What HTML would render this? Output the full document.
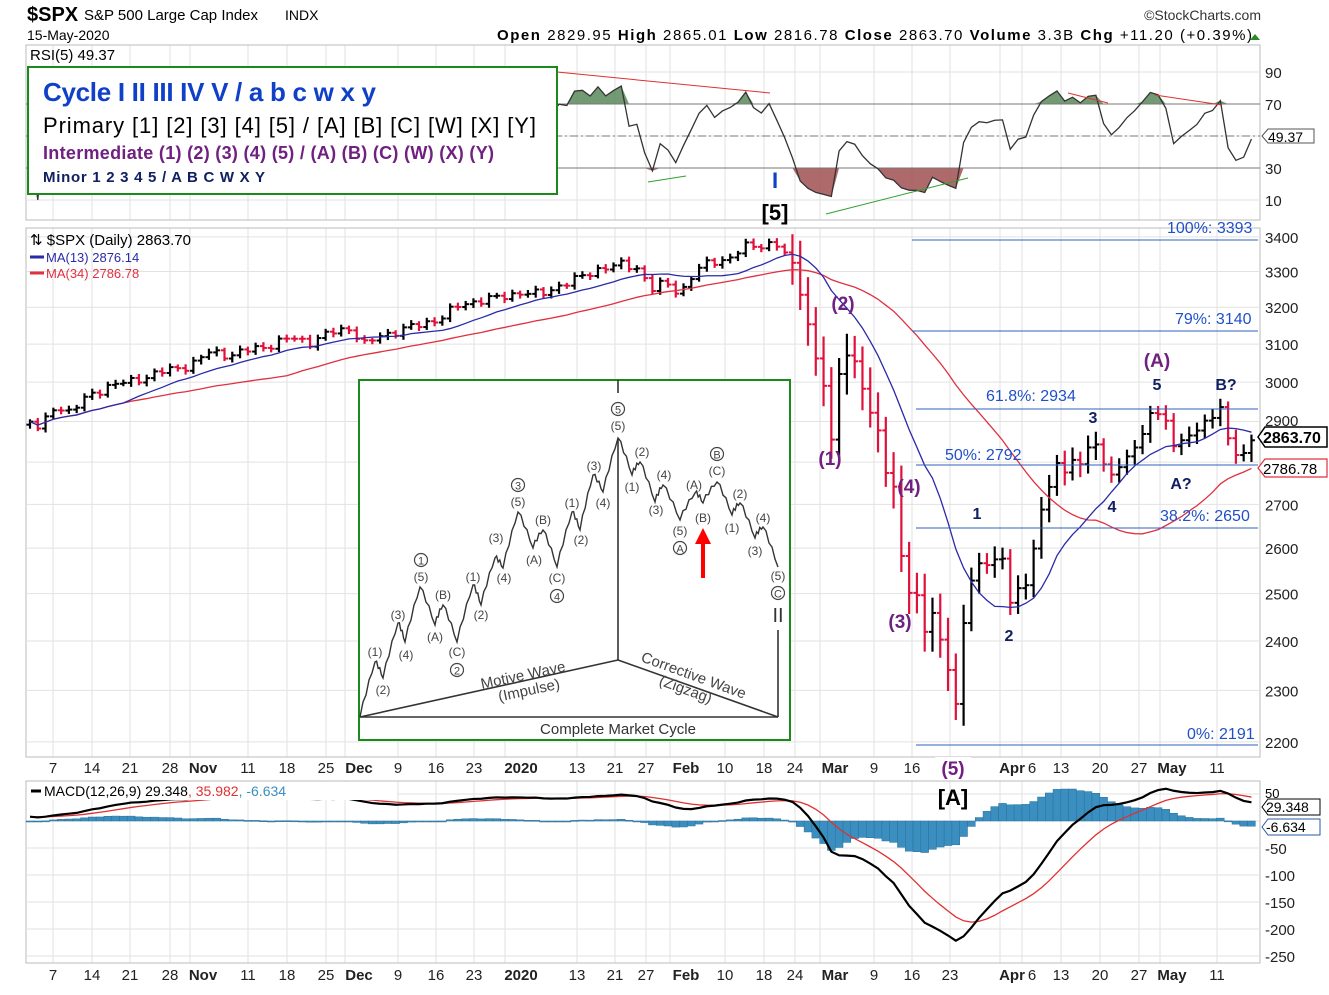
<!DOCTYPE html>
<html><head><meta charset="utf-8"><style>
body{margin:0;background:#fff}
svg text{font-family:"Liberation Sans",sans-serif}
</style></head><body>
<svg id="s" width="1329" height="990" viewBox="0 0 1329 990" xmlns="http://www.w3.org/2000/svg">
<rect width="1329" height="990" fill="#fff"/>
<g id="grid"></g>
<g id="rsi"></g>
<g id="price"></g>
<g id="macd"></g>
<text x="27" y="21" font-size="20" font-weight="bold">$SPX</text>
<text x="84" y="20" font-size="15">S&amp;P 500 Large Cap Index</text>
<text x="285" y="20" font-size="14">INDX</text>
<text x="27" y="40" font-size="14">15-May-2020</text>
<text x="1261" y="20" font-size="14" text-anchor="end" fill="#333">©StockCharts.com</text>
<text x="1252" y="40" font-size="15" text-anchor="end" textLength="755"><tspan font-weight="bold">Open</tspan> 2829.95 <tspan font-weight="bold">High</tspan> 2865.01 <tspan font-weight="bold">Low</tspan> 2816.78 <tspan font-weight="bold">Close</tspan> 2863.70 <tspan font-weight="bold">Volume</tspan> 3.3B <tspan font-weight="bold">Chg</tspan> +11.20 (+0.39%)</text>
<polygon points="1250,40 1260,40 1255,34" fill="#2a8a2a"/>
<text x="30" y="60" font-size="15" font-family="Liberation Mono">RSI(5) 49.37</text>
<rect x="28" y="67" width="529" height="127" fill="#fff" stroke="#1a8a1a" stroke-width="2"/>
<text x="43" y="101" font-size="26" font-weight="bold" fill="#1040c8" textLength="333">Cycle I II III IV V / a b c w x y</text>
<text x="43" y="133" font-size="22" fill="#000" textLength="493">Primary [1] [2] [3] [4] [5] / [A] [B] [C] [W] [X] [Y]</text>
<text x="43" y="159" font-size="18" font-weight="bold" fill="#702080" textLength="451">Intermediate (1) (2) (3) (4) (5) / (A) (B) (C) (W) (X) (Y)</text>
<text x="43" y="182" font-size="15" font-weight="bold" fill="#102060" textLength="222">Minor 1 2 3 4 5 / A B C W X Y</text>
<text x="30" y="245" font-size="15" font-family="Liberation Mono">⇅ $SPX (Daily) 2863.70</text>
<line x1="30" y1="257" x2="44" y2="257" stroke="#2a2aa8" stroke-width="3"/>
<text x="46" y="262" font-size="13" font-family="Liberation Mono" fill="#2a2aa8">MA(13) 2876.14</text>
<line x1="30" y1="273" x2="44" y2="273" stroke="#e03040" stroke-width="3"/>
<text x="46" y="278" font-size="13" font-family="Liberation Mono" fill="#e03040">MA(34) 2786.78</text>
<g id="inset"></g>
<g id="labels"></g>
</svg>
<script>
const NS="http://www.w3.org/2000/svg";
function el(p,t,a,txt){const e=document.createElementNS(NS,t);for(const k in a)e.setAttribute(k,a[k]);if(txt!==undefined)e.textContent=txt;document.getElementById(p).appendChild(e);return e;}
const L=26,R=1260;
const ticks=[["7",53],["14",92],["21",130],["28",170],["Nov",203,1],["11",248],["18",287],["25",326],["Dec",359,1],["9",398],["16",436],["23",474],["2020",521,1],["13",577],["21",615],["27",646],["Feb",686,1],["10",725],["18",764],["24",795],["Mar",835,1],["9",874],["16",912],["23",950],["Apr",1012,1],["6",1032],["13",1061],["20",1100],["27",1139],["May",1172,1],["11",1217]];
const gx=[53,92,130,170,190,248,287,326,345,398,436,474,505,577,615,646,670,725,764,795,820,874,912,950,1000,1022,1061,1100,1139,1160,1217];
gx.forEach(x=>{[[45,220],[228,757],[781,963]].forEach(r=>el("grid","line",{x1:x,x2:x,y1:r[0],y2:r[1],stroke:"#e2e2e2","stroke-width":1}));});
ticks.forEach(t=>{[773,980].forEach(y=>el("grid","text",{x:t[1],y:y,"font-size":15,"text-anchor":"middle","font-weight":t[2]?"bold":"normal",fill:"#222"},t[0]));});
[[45,220],[228,757],[781,963]].forEach(r=>el("grid","rect",{x:L,y:r[0],width:R-L,height:r[1]-r[0],fill:"none",stroke:"#bbb"}));
const A=9669.5,B=1160;const py=p=>A-B*Math.log(p);const yp=y=>Math.exp((A-y)/B);
[3400,3300,3200,3100,3000,2900,2800,2700,2600,2500,2400,2300,2200].forEach(p=>{const y=py(p);el("grid","line",{x1:L,x2:R,y1:y,y2:y,stroke:"#e2e2e2"});if(p!=2900&&p!=2800)el("grid","text",{x:1265,y:y+6,"font-size":15,fill:"#222"},p);});
const ry=v=>136-(v-50)*1.6;
[90,70,50,30,10].forEach(v=>{el("grid","line",{x1:L,x2:R,y1:ry(v),y2:ry(v),stroke:"#e2e2e2"});if(v!=50)el("grid","text",{x:1265,y:ry(v)+6,"font-size":15,fill:"#222"},v);});
const my=v=>821-v*0.54;
[50,0,-50,-100,-150,-200,-250].forEach(v=>{el("grid","line",{x1:L,x2:R,y1:my(v),y2:my(v),stroke:"#e2e2e2"});if(v<0)el("grid","text",{x:1265,y:my(v)+6,"font-size":15,fill:"#222"},v);});
const K=[[28,420],[40,430],[55,405],[70,412],[90,395],[110,385],[130,382],[150,375],[170,370],[190,365],[210,352],[230,355],[250,350],[270,345],[290,338],[310,342],[330,333],[350,328],[365,345],[380,336],[400,330],[420,325],[440,318],[460,305],[480,300],[500,298],[520,292],[540,295],[560,285],[580,278],[600,268],[620,265],[640,268],[650,290],[665,283],[680,293],[695,272],[710,262],[730,258],[745,247],[760,245],[775,243],[785,255],[795,262],[800,295],[808,325],[818,365],[826,400],[832,440],[840,370],[848,350],[856,365],[864,395],[872,415],[880,440],[888,480],[896,495],[902,560],[908,600],[914,570],[922,640],[930,610],[938,630],[946,650],[952,720],[958,690],[964,620],[970,585],[978,560],[986,570],[994,555],[1002,560],[1010,600],[1018,590],[1026,585],[1034,545],[1042,510],[1050,480],[1058,465],[1066,470],[1074,460],[1082,465],[1090,440],[1098,450],[1106,465],[1112,480],[1120,462],[1128,458],[1136,445],[1144,430],[1152,412],[1160,410],[1168,430],[1176,448],[1184,440],[1192,432],[1200,428],[1208,420],[1216,410],[1224,412],[1230,445],[1238,462],[1246,448],[1253,437]];
function interp(x){for(let i=1;i<K.length;i++){if(x<=K[i][0]){const a=K[i-1],b=K[i];return a[1]+(b[1]-a[1])*(x-a[0])/(b[0]-a[0]);}}return K[K.length-1][1];}
const xs=[],cy=[];
for(let i=0;;i++){const x=30+i*7.78;if(x>1254)break;xs.push(x);let n=(x<790)?(Math.sin(i*2.3)*3+Math.sin(i*5.1)*2):(Math.sin(i*2.7)*4);cy.push(interp(x)+n);}
const N=xs.length;
for(let i=0;i<N;i++){const x=xs[i],c=cy[i],o=i?cy[i-1]:c+3;const r=(x<790)?4:(x<965?22:(x<1100?13:9));const hi=Math.min(c,o)-r*(0.6+0.4*Math.abs(Math.sin(i))),lo=Math.max(c,o)+r*(0.6+0.4*Math.abs(Math.cos(i*1.7)));const col=(i&&c>cy[i-1])?"#e0103a":"#000";
el("price","line",{x1:x,x2:x,y1:hi,y2:lo,stroke:col,"stroke-width":2.2});el("price","line",{x1:x-3.5,x2:x,y1:o,y2:o,stroke:col,"stroke-width":2});el("price","line",{x1:x,x2:x+3.5,y1:c,y2:c,stroke:col,"stroke-width":2});}
const P=cy.map(yp);
function ma(n){const r=[];for(let i=0;i<N;i++){let s=0,k=0;for(let j=Math.max(0,i-n+1);j<=i;j++){s+=P[j];k++;}r.push(py(s/k));}return r;}
const m13=ma(13),m34=ma(34);
el("price","polyline",{points:xs.map((x,i)=>x+","+m34[i]).join(" "),fill:"none",stroke:"#e03040","stroke-width":1.3});
el("price","polyline",{points:xs.map((x,i)=>x+","+m13[i]).join(" "),fill:"none",stroke:"#2a2aa8","stroke-width":1.3});
const rs=[50];let ag=0,al=0;
for(let i=1;i<N;i++){const d=P[i]-P[i-1];const g=Math.max(d,0),l=Math.max(-d,0);ag=(ag*4+g)/5;al=(al*4+l)/5;rs.push(al==0?90:100-100/(1+ag/al));}
const rp=xs.map((x,i)=>[x,ry(Math.max(8,Math.min(92,50+(rs[i]-50)*0.8)))]);
el("rsi","path",{d:"M"+rp.map(p=>p[0]+","+Math.min(p[1],ry(70))).join("L")+"L"+rp[N-1][0]+","+ry(70)+"L"+rp[0][0]+","+ry(70)+"Z",fill:"#5a8a5a",opacity:0.85});
el("rsi","path",{d:"M"+rp.map(p=>p[0]+","+Math.max(p[1],ry(30))).join("L")+"L"+rp[N-1][0]+","+ry(30)+"L"+rp[0][0]+","+ry(30)+"Z",fill:"#a05050",opacity:0.85});
el("rsi","line",{x1:L,x2:R,y1:ry(70),y2:ry(70),stroke:"#777"});el("rsi","line",{x1:L,x2:R,y1:ry(30),y2:ry(30),stroke:"#777"});
el("rsi","line",{x1:L,x2:R,y1:ry(50),y2:ry(50),stroke:"#777","stroke-dasharray":"8 3 2 3"});
el("rsi","polyline",{points:rp.map(p=>p.join(",")).join(" "),fill:"none",stroke:"#333","stroke-width":1.3});
[[557,72,770,93,"#e03030"],[1068,93,1108,103,"#e03030"],[1155,95,1222,105,"#e03030"],[648,182,686,176,"#30a030"],[826,214,968,178,"#30a030"]].forEach(l=>el("rsi","line",{x1:l[0],y1:l[1],x2:l[2],y2:l[3],stroke:l[4]}));
el("rsi","path",{d:"M1262,136 l6,-7 h46 v14 h-46 z",fill:"#fff",stroke:"#555"});el("rsi","text",{x:1268,y:142,"font-size":14},"49.37");
function ema(a,n){const k=2/(n+1);const r=[a[0]];for(let i=1;i<a.length;i++)r.push(a[i]*k+r[i-1]*(1-k));return r;}
const e12=ema(P,12),e26=ema(P,26);const mac=e12.map((v,i)=>v-e26[i]+8);const sig=ema(mac,9);
for(let i=0;i<N;i++){const h=mac[i]-sig[i];const y0=my(0),y1=my(h);el("macd","rect",{x:xs[i]-3.9,y:Math.min(y0,y1),width:7.8,height:Math.max(1,Math.abs(y1-y0)),fill:"#3a8fc0",stroke:"#2a6f9a","stroke-width":0.5});}
el("macd","polyline",{points:xs.map((x,i)=>x+","+my(sig[i])).join(" "),fill:"none",stroke:"#e03030","stroke-width":1.3});
el("macd","polyline",{points:xs.map((x,i)=>x+","+my(mac[i])).join(" "),fill:"none",stroke:"#000","stroke-width":2.2});
el("macd","rect",{x:27,y:782,width:370,height:18,fill:"#fff"});
el("macd","line",{x1:31,x2:41,y1:791,y2:791,stroke:"#000","stroke-width":3});
const t=el("macd","text",{x:44,y:796,"font-size":14,"font-family":"Liberation Mono"});t.innerHTML='MACD(12,26,9) 29.348<tspan fill="#e03030">, 35.982</tspan><tspan fill="#3a8fc0">, -6.634</tspan>';
el("macd","text",{x:1265,y:798,"font-size":13},"50");
el("macd","path",{d:"M1262,807 l6,-8 h52 v16 h-52 z",fill:"#fff",stroke:"#000"});el("macd","text",{x:1266,y:812,"font-size":14},"29.348");
el("macd","path",{d:"M1262,827 l6,-8 h52 v16 h-52 z",fill:"#fff",stroke:"#2a5aa8"});el("macd","text",{x:1266,y:832,"font-size":14},"-6.634");
[[240,912,"100%: 3393",1167,233],[331,912,"79%: 3140",1175,324],[409,916,"61.8%: 2934",986,401],[465,916,"50%: 2792",945,460],[528,916,"38.2%: 2650",1160,521],[745,916,"0%: 2191",1187,739]].forEach(f=>{el("labels","line",{x1:f[1],x2:1258,y1:f[0],y2:f[0],stroke:"#3060c0"});el("labels","text",{x:f[3],y:f[4],"font-size":16,fill:"#2050c8"},f[2]);});
el("labels","path",{d:"M1258,437 l7,-10 h62 v20 h-62 z",fill:"#fff",stroke:"#000","stroke-width":1.5});el("labels","text",{x:1263,y:443,"font-size":16,"font-weight":"bold"},"2863.70");
el("labels","path",{d:"M1258,468 l7,-9 h62 v18 h-62 z",fill:"#fff",stroke:"#e03040","stroke-width":1.2});el("labels","text",{x:1263,y:474,"font-size":15},"2786.78");
el("labels","text",{x:1265,y:426,"font-size":15,fill:"#222"},"2900");
el("labels","rect",{x:935,y:757,width:36,height:22,fill:"#fff"});
const W=[["(1)",830,465,"#702080",19],["(2)",843,310,"#702080",19],["(3)",900,628,"#702080",19],["(4)",909,493,"#702080",19],["(5)",953,775,"#702080",19],["[A]",953,805,"#000",22],["I",775,188,"#1040c8",22],["[5]",775,220,"#000",22],["(A)",1157,367,"#702080",19],["1",977,519,"#102060",16],["2",1009,641,"#102060",16],["3",1093,423,"#102060",16],["4",1112,512,"#102060",16],["5",1157,390,"#102060",16],["B?",1226,390,"#102060",16],["A?",1181,489,"#102060",16]];
W.forEach(w=>el("labels","text",{x:w[1],y:w[2],"font-size":w[4],"font-weight":"bold",fill:w[3],"text-anchor":"middle"},w[0]));
el("inset","rect",{x:359,y:380,width:431,height:360,fill:"#fff",stroke:"#1a8a1a","stroke-width":2});
const IP=[[360,717],[375,662],[383,678],[398,623],[405,642],[420,587],[435,625],[443,605],[457,642],[473,585],[481,605],[495,558],[503,568],[518,512],[533,548],[543,530],[557,567],[572,512],[580,530],[593,475],[603,492],[618,438],[632,475],[640,462],[655,502],[663,485],[680,520],[695,493],[703,503],[717,482],[732,515],[740,503],[755,538],[763,527],[778,567]];
let pts=[];for(let i=1;i<IP.length;i++){const a=IP[i-1],b=IP[i];for(let k=0;k<5;k++){const f=k/5;pts.push([a[0]+(b[0]-a[0])*f,a[1]+(b[1]-a[1])*f+(k%2?-4:0)]);}}pts.push(IP[IP.length-1]);
el("inset","polyline",{points:pts.map(p=>p.join(",")).join(" "),fill:"none",stroke:"#333","stroke-width":1.4});
[[618,380,618,393],[618,440,618,660],[360,717,618,660],[618,660,778,717],[360,717,778,717],[778,630,778,717]].forEach(l=>el("inset","line",{x1:l[0],y1:l[1],x2:l[2],y2:l[3],stroke:"#333","stroke-width":1.6}));
el("inset","text",{x:778,y:622,"font-size":20,"text-anchor":"middle",fill:"#333"},"II");
const LB=[["(5)",421,581],["(1)",375,656],["(2)",383,694],["(3)",398,619],["(4)",406,659],["(A)",435,641],["(B)",443,599],["(C)",457,656],["(1)",473,581],["(2)",481,619],["(3)",496,542],["(4)",504,582],["(5)",518,506],["(A)",534,564],["(B)",543,524],["(C)",557,582],["(1)",572,507],["(2)",581,544],["(3)",594,470],["(4)",603,507],["(5)",618,430],["(2)",642,456],["(1)",632,491],["(4)",664,479],["(3)",656,514],["(5)",680,535],["(A)",694,489],["(B)",703,522],["(C)",717,475],["(2)",740,498],["(1)",732,532],["(4)",763,522],["(3)",755,555],["(5)",778,580]];
LB.forEach(l=>el("inset","text",{x:l[1],y:l[2],"font-size":12,"text-anchor":"middle",fill:"#444"},l[0]));
[["1",421,560],["2",457,670],["3",518,485],["4",557,596],["5",618,409],["A",680,548],["B",717,454],["C",778,593]].forEach(c=>{el("inset","circle",{cx:c[1],cy:c[2],r:6.5,fill:"#fff",stroke:"#444","stroke-width":1.2});el("inset","text",{x:c[1],y:c[2]+4.5,"font-size":11,"text-anchor":"middle",fill:"#444"},c[0]);});
el("inset","text",{x:0,y:0,"font-size":15,fill:"#444","text-anchor":"middle",transform:"translate(524,680) rotate(-12)"},"Motive Wave");
el("inset","text",{x:0,y:0,"font-size":15,fill:"#444","text-anchor":"middle",transform:"translate(530,695) rotate(-12)"},"(Impulse)");
el("inset","text",{x:0,y:0,"font-size":15,fill:"#444","text-anchor":"middle",transform:"translate(692,680) rotate(20)"},"Corrective Wave");
el("inset","text",{x:0,y:0,"font-size":15,fill:"#444","text-anchor":"middle",transform:"translate(684,694) rotate(20)"},"(Zigzag)");
el("inset","text",{x:618,y:734,"font-size":15,fill:"#333","text-anchor":"middle"},"Complete Market Cycle");
el("inset","rect",{x:701,y:540,width:4,height:38,fill:"#f00"});el("inset","polygon",{points:"695,544 711,544 703,528",fill:"#f00"});
</script>
</body></html>
